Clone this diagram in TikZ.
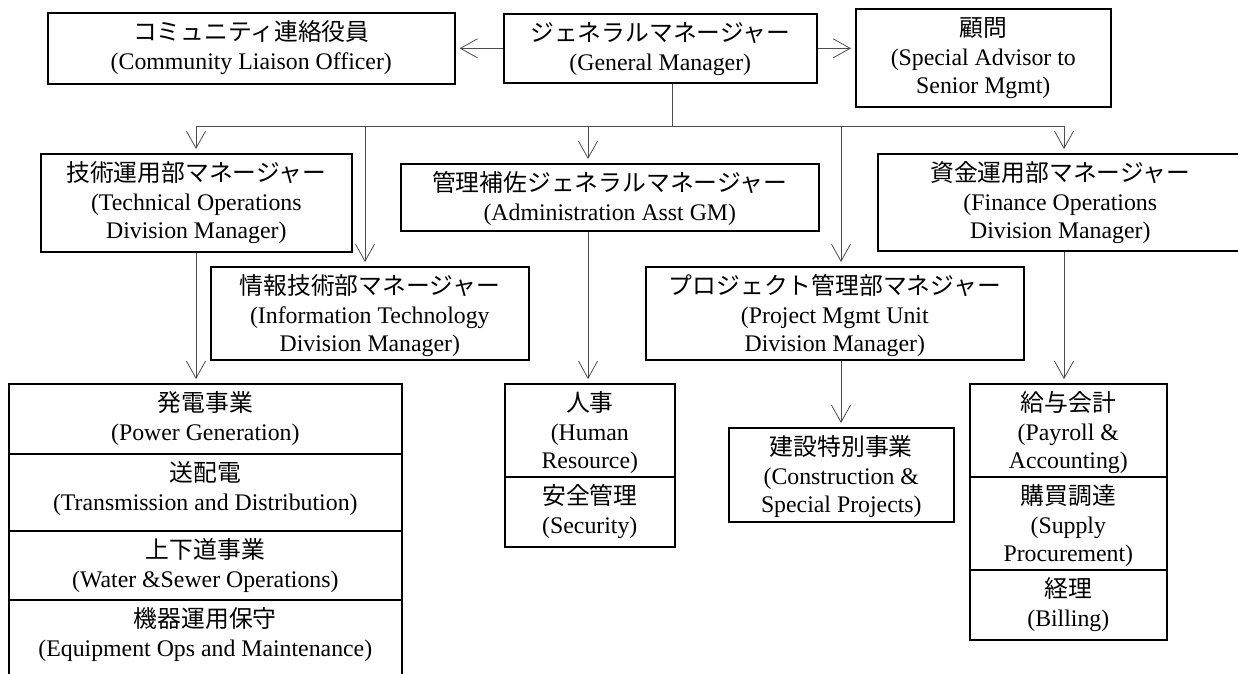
\documentclass[tikz,border=0pt]{standalone}
\usepackage{fontspec}
\setmainfont{Liberation Serif}
\newfontfamily\jp{Noto Sans CJK JP}
\usetikzlibrary{arrows.meta}
\newcommand{\bx}[6]{%
  \node[orgbox, anchor=north west] (#1) at (#2,#3)
    {\parbox[c][#5pt][t]{#4pt}{\centering\rule{0pt}{28pt}#6}};}
\tikzset{
  orgbox/.style={draw=black, line width=1.6pt, inner sep=0pt,
    font=\fontsize{23.8}{28.5}\selectfont},
  conn/.style={draw=black!70, line width=0.8pt},
  arr/.style={conn, -{Straight Barb[length=17pt,width=19pt,line width=0.8pt]}, shorten >=4pt},
}
\begin{document}
\begin{tikzpicture}[x=1pt,y=-1pt]
\useasboundingbox (0,0) rectangle (1238,673);
\clip (0,0) rectangle (1238,673);
% top row
\bx{comm}{47}{12}{407}{71}{{\jp コミュニティ連絡役員}\\(Community Liaison Officer)}
\bx{gm}{503}{13}{313}{69}{{\jp ジェネラルマネージャー}\\(General Manager)}
\bx{adv}{855}{8}{255}{98}{{\jp 顧問}\\(Special Advisor to\\Senior Mgmt)}
% division managers
\bx{tech}{40}{153}{311}{98}{{\jp 技術運用部マネージャー}\\(Technical Operations\\Division Manager)}
\bx{admin}{400}{163}{418}{67}{{\jp 管理補佐ジェネラルマネージャー}\\(Administration Asst GM)}
\bx{fin}{877}{153}{365}{97}{{\jp 資金運用部マネージャー}\\(Finance Operations\\Division Manager)}
\bx{it}{210}{266}{318}{93}{{\jp 情報技術部マネージャー}\\(Information Technology\\Division Manager)}
\bx{proj}{645}{266}{378}{93}{{\jp プロジェクト管理部マネジャー}\\(Project Mgmt Unit\\Division Manager)}
% units
\bx{pg}{8}{383}{393}{70}{{\jp 発電事業}\\(Power Generation)}
\bx{td}{8}{453}{393}{77}{{\jp 送配電}\\(Transmission and Distribution)}
\bx{ws}{8}{530}{393}{69}{{\jp 上下道事業}\\(Water \&Sewer Operations)}
\bx{eo}{8}{599}{393}{101}{{\jp 機器運用保守}\\(Equipment Ops and Maintenance)}
\bx{hr}{504}{383}{170}{93}{{\jp 人事}\\(Human\\Resource)}
\bx{sec}{504}{476}{170}{70}{{\jp 安全管理}\\(Security)}
\bx{cons}{728}{427}{225}{94}{{\jp 建設特別事業}\\(Construction \&\\Special Projects)}
\bx{pay}{969}{383}{197}{93}{{\jp 給与会計}\\(Payroll \&\\Accounting)}
\bx{sup}{969}{476}{197}{93}{{\jp 購買調達}\\(Supply\\Procurement)}
\bx{bill}{969}{569}{197}{70}{{\jp 経理}\\(Billing)}
% connectors
\coordinate (busL) at (196,126);
\coordinate (busIT) at (365,126);
\coordinate (busAd) at (588,126);
\coordinate (busM) at (672,126);
\coordinate (busPr) at (841,126);
\coordinate (busR) at (1064,126);
\draw[arr] (gm.west) -- (comm.east);
\draw[arr] (gm.east) -- (gm.east -| adv.west);
\draw[conn] (busM |- gm.south) -- (busM);
\draw[conn] (busL) -- (busR);
\draw[arr] (busL) -- (busL |- tech.north);
\draw[arr] (busIT) -- (busIT |- it.north);
\draw[arr] (busAd) -- (busAd |- admin.north);
\draw[arr] (busPr) -- (busPr |- proj.north);
\draw[arr] (busR) -- (busR |- fin.north);
\draw[arr] (busL |- tech.south) -- (busL |- pg.north);
\draw[arr] (busAd |- admin.south) -- (busAd |- hr.north);
\draw[arr] (busPr |- proj.south) -- (busPr |- cons.north);
\draw[arr] (busR |- fin.south) -- (busR |- pay.north);
\end{tikzpicture}
\end{document}
